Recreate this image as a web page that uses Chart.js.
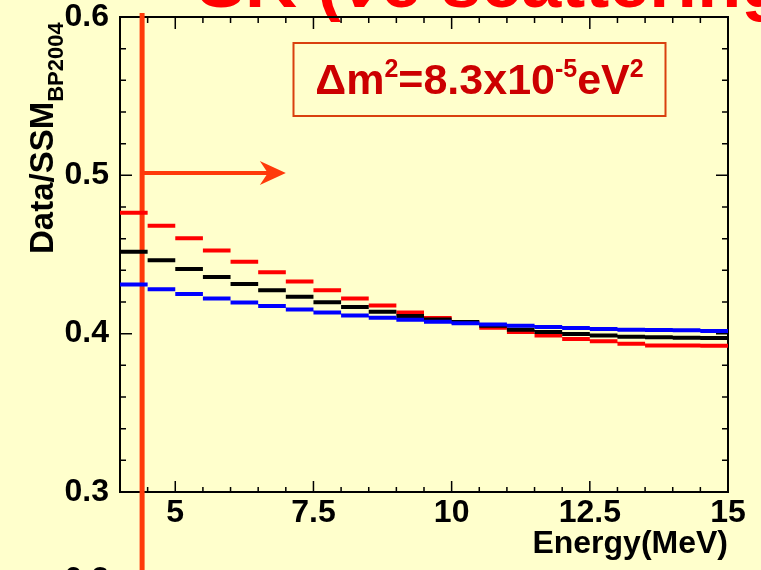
<!DOCTYPE html>
<html>
<script src="https://cdn.jsdelivr.net/npm/chart.js@4.4.1/dist/chart.umd.min.js"></script>
<body style="margin:0;background:#ffffcc">
<canvas id="myChart" width="761" height="570"></canvas>

<script>
    // bin edges (MeV) and Data/SSM per bin for the three curves
    const binEdges = [4,4.5,5,5.5,6,6.5,7,7.5,8,8.5,9,9.5,10,10.5,11,11.5,12,12.5,13,13.5,14,14.5,15];
    const redValues = [0.4763,0.4681,0.4602,0.4526,0.4455,0.4388,0.4329,0.4275,0.4222,0.4178,0.4134,0.4099,
        0.4071,0.4038,0.4011,0.3989,0.3967,0.3952,0.3937,0.3926,0.3925,0.3923];
    const blackValues = [0.4518,0.4463,0.4409,0.4358,0.4314,0.4275,0.4233,0.4199,0.4168,0.4138,0.4111,0.4090,
        0.4074,0.4050,0.4025,0.4011,0.3998,0.3989,0.3981,0.3977,0.3975,0.3973];
    const blueValues = [0.4310,0.4281,0.4250,0.4222,0.4197,0.4174,0.4153,0.4134,0.4115,0.4101,0.4088,0.4076,
        0.4066,0.4058,0.4050,0.4042,0.4036,0.4030,0.4025,0.4023,0.4021,0.4017];
    const xMajor = [5,7.5,10,12.5,15];
    const yMajor = [0.3,0.4,0.5,0.6];
    const thresholdE = 4.4;   // red vertical marker
    const arrowTo = 7;        // arrow end (MeV)
    const arrowY = 0.5015;

    const FONT = "'Liberation Sans', Arial, sans-serif";
    const bg = "#ffffcc";

    function steps(vals) {
        const pts = [];
        vals.forEach((v, i) => {
            pts.push({x: binEdges[i], y: v}, {x: binEdges[i + 1], y: v}, {x: binEdges[i + 1], y: null});
        });
        return pts;
    }
    const near = (v, list) => list.some(m => Math.abs(m - v) < 1e-6);

    const slidePlugin = {
        id: "slide",
        beforeDraw(chart) {
            const ctx = chart.ctx;
            ctx.save();
            ctx.fillStyle = bg;
            ctx.fillRect(0, 0, chart.width, chart.height);
            // slide title, mostly cut off at the top
            ctx.fillStyle = "#ff0000";
            ctx.font = "bold 72px " + FONT;
            ctx.textBaseline = "alphabetic";
            ctx.fillText("SK (νe scattering)", 197, 7);
            // next panel's label peeking at the bottom
            ctx.fillStyle = "#000";
            ctx.font = "bold 32px " + FONT;
            ctx.textAlign = "right";
            ctx.fillText("0.2", 109, 589);
            ctx.restore();
        },
        beforeDatasetsDraw(chart) {
            const ctx = chart.ctx;
            const a = chart.chartArea;
            const xs = chart.scales.x, ys = chart.scales.y;
            ctx.save();
            // frame
            ctx.strokeStyle = "#000";
            ctx.lineWidth = 2;
            ctx.strokeRect(a.left, a.top, a.right - a.left, a.bottom - a.top);
            // ticks, ROOT style (inside, on all four sides)
            ctx.lineWidth = 1.5;
            ctx.beginPath();
            xs.ticks.forEach(t => {
                const px = xs.getPixelForValue(t.value);
                const major = near(t.value, xMajor);
                ctx.moveTo(px, a.bottom); ctx.lineTo(px, a.bottom - (major ? 11 : 5));
                ctx.moveTo(px, a.top); ctx.lineTo(px, a.top + (major ? 12 : 6));
            });
            ys.ticks.forEach(t => {
                const py = ys.getPixelForValue(t.value);
                const major = near(t.value, yMajor);
                ctx.moveTo(a.left, py); ctx.lineTo(a.left + (major ? 12 : 6), py);
                ctx.moveTo(a.right, py); ctx.lineTo(a.right - (major ? 12 : 6), py);
            });
            ctx.stroke();

            // threshold line + arrow
            const lx = xs.getPixelForValue(thresholdE);
            const ay = ys.getPixelForValue(arrowY);
            const tip = xs.getPixelForValue(arrowTo);
            ctx.strokeStyle = "#ff3a0a";
            ctx.fillStyle = "#ff3a0a";
            ctx.lineWidth = 5;
            ctx.beginPath();
            ctx.moveTo(lx, a.top - 4);
            ctx.lineTo(lx, chart.height);
            ctx.stroke();
            ctx.lineWidth = 4;
            ctx.beginPath();
            ctx.moveTo(lx, ay);
            ctx.lineTo(tip - 12, ay);
            ctx.stroke();
            ctx.beginPath();
            ctx.moveTo(tip, ay);
            ctx.lineTo(tip - 26, ay - 12);
            ctx.lineTo(tip - 18, ay);
            ctx.lineTo(tip - 26, ay + 12);
            ctx.closePath();
            ctx.fill();
            ctx.restore();
        },
        afterDraw(chart) {
            const ctx = chart.ctx;
            ctx.save();
            // delta m^2 box
            ctx.strokeStyle = "#d9400f";
            ctx.lineWidth = 2;
            ctx.strokeRect(293.5, 43, 372, 73);
            const parts = [["Δm", 0], ["2", 1], ["=8.3x10", 0], ["-5", 1], ["eV", 0], ["2", 1]];
            const big = "bold 43px " + FONT, small = "bold 25px " + FONT;
            let total = 0;
            parts.forEach(p => { ctx.font = p[1] ? small : big; total += ctx.measureText(p[0]).width; });
            let x = 479.5 - total / 2;
            ctx.fillStyle = "#cc0000";
            ctx.textBaseline = "alphabetic";
            parts.forEach(p => {
                ctx.font = p[1] ? small : big;
                ctx.fillText(p[0], x, p[1] ? 77 : 94);
                x += ctx.measureText(p[0]).width;
            });
            // y axis title with subscript
            ctx.fillStyle = "#000";
            ctx.translate(53, 254);
            ctx.rotate(-Math.PI / 2);
            ctx.font = "bold 33px " + FONT;
            ctx.fillText("Data/SSM", 0, 0);
            const w = ctx.measureText("Data/SSM").width;
            ctx.font = "bold 22px " + FONT;
            ctx.fillText("BP2004", w, 10);
            ctx.restore();
        }
    };

    const lineDs = (vals, color) => ({
        data: steps(vals),
        borderColor: color,
        borderWidth: 4,
        pointRadius: 0,
        fill: false,
        spanGaps: false
    });

    const myChart = new Chart("myChart", {
        type: "line",
        data: {
            datasets: [
                lineDs(blueValues, "#0000ff"),
                lineDs(blackValues, "#000000"),
                lineDs(redValues, "#ff0000")
            ]
        },
        options: {
            responsive: false,
            animation: false,
            layout: {padding: {top: 17, right: 33, left: 0, bottom: 0}},
            plugins: {legend: {display: false}, tooltip: {enabled: false}},
            scales: {
                x: {
                    type: "linear",
                    min: 4,
                    max: 15,
                    border: {display: false},
                    grid: {display: false, drawTicks: false, tickLength: 0},
                    ticks: {
                        stepSize: 0.5,
                        autoSkip: false,
                        maxRotation: 0,
                        minRotation: 0,
                        padding: 5,
                        color: "#000",
                        font: {family: FONT, size: 32, weight: "bold", lineHeight: 1},
                        callback: v => near(v, xMajor) ? (Number.isInteger(v) ? String(v) : v.toFixed(1)) : ""
                    },
                    title: {
                        display: true,
                        text: "Energy(MeV)",
                        align: "end",
                        color: "#000",
                        font: {family: FONT, size: 32, weight: "bold", lineHeight: 1},
                        padding: {top: 0, bottom: 10}
                    },
                    afterFit: s => { s.height = 78; s.paddingLeft = 0; s.paddingRight = 0; }
                },
                y: {
                    min: 0.3,
                    max: 0.6,
                    border: {display: false},
                    grid: {display: false, drawTicks: false, tickLength: 0},
                    ticks: {
                        stepSize: 0.02,
                        autoSkip: false,
                        padding: 11,
                        color: "#000",
                        font: {family: FONT, size: 32, weight: "bold", lineHeight: 1},
                        callback: v => near(v, yMajor) ? v.toFixed(1) : ""
                    },
                    afterFit: s => { s.width = 120; s.paddingTop = 0; s.paddingBottom = 0; }
                }
            }
        },
        plugins: [slidePlugin]
    });
</script>
</body>
</html>
